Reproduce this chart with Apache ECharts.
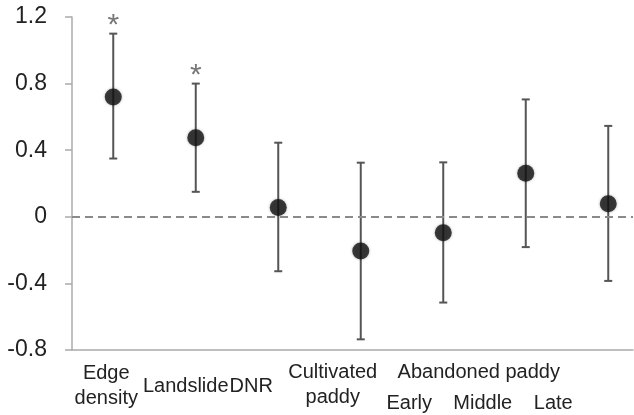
<!DOCTYPE html>
<html>
<head>
<meta charset="utf-8">
<script src="https://cdn.jsdelivr.net/npm/echarts@6/dist/echarts.min.js"></script>
<style>
  html, body { margin: 0; padding: 0; background: #fff; }
  #chart { width: 634px; height: 415px; }
</style>
</head>
<body>
<div id="chart"></div>
<script>
// values
var categories = ['Edge\ndensity', 'Landslide', 'DNR', 'Cultivated\npaddy', 'Early', 'Middle', 'Late'];
var meanValues = [0.72, 0.475, 0.056, -0.206, -0.096, 0.261, 0.078];
var upperValues = [1.10, 0.80, 0.445, 0.325, 0.327, 0.705, 0.546];
var lowerValues = [0.35, 0.15, -0.327, -0.736, -0.515, -0.182, -0.385];
var significant = [true, true, false, false, false, false, false];
var groupLabel = 'Abandoned paddy';
var groupCenter = 5; // index of 'Middle'

// label placement (pixels, relative to the tick position / axis bottom)
var labelShiftX = [-7, -10, -27, -28, -34, -43, -55];
var labelShiftY = [36, 36, 36, 35, 53, 53, 53];

var textColor = '#222';
var labelFont = 'Liberation Sans, Arial, sans-serif';

var chart = echarts.init(document.getElementById('chart'));

var positions = categories.map(function (c, i) { return i + 1; });

var option = {
    animation: false,
    grid: { left: 72, right: 1, top: 17, bottom: 65 },
    xAxis: {
        type: 'value',
        min: 0.5,
        max: 7.3,
        axisLine: { show: true, onZero: false, lineStyle: { color: '#ababab', width: 1.5 } },
        axisTick: { show: false },
        axisLabel: { show: false },
        splitLine: { show: false }
    },
    yAxis: {
        type: 'value',
        min: -0.8,
        max: 1.2,
        interval: 0.4,
        axisLine: { show: true, lineStyle: { color: '#ababab', width: 1.5 } },
        axisTick: { show: true, length: 7, lineStyle: { color: '#ababab', width: 1.5 } },
        splitLine: { show: false },
        axisLabel: {
            margin: 25,
            fontSize: 23,
            fontFamily: labelFont,
            color: textColor,
            formatter: function (v) {
                var r = Math.round(v * 10) / 10;
                return r === 0 ? '0' : r.toFixed(1);
            }
        }
    },
    series: [{
        // error bars
        type: 'custom',
        z: 2,
        data: positions.map(function (x, i) { return [x, lowerValues[i], upperValues[i]]; }),
        renderItem: function (params, api) {
            var lo = api.coord([api.value(0), api.value(1)]);
            var hi = api.coord([api.value(0), api.value(2)]);
            var cap = 4;
            var st = { stroke: '#555', lineWidth: 2 };
            return {
                type: 'group',
                children: [
                    { type: 'line', shape: { x1: lo[0], y1: lo[1], x2: hi[0], y2: hi[1] }, style: st },
                    { type: 'line', shape: { x1: lo[0] - cap, y1: lo[1], x2: lo[0] + cap, y2: lo[1] }, style: st },
                    { type: 'line', shape: { x1: hi[0] - cap, y1: hi[1], x2: hi[0] + cap, y2: hi[1] }, style: st }
                ]
            };
        }
    }, {
        // means
        type: 'scatter',
        z: 3,
        symbolSize: 17,
        itemStyle: { color: '#111', shadowBlur: 3, shadowColor: 'rgba(0,0,0,0.35)' },
        data: positions.map(function (x, i) { return [x, meanValues[i]]; }),
        markLine: {
            silent: true,
            symbol: 'none',
            label: { show: false },
            lineStyle: { color: '#8a8a8a', type: [8, 5], width: 2 },
            data: [{ yAxis: 0 }]
        }
    }, {
        // significance stars
        type: 'custom',
        z: 4,
        data: positions.filter(function (x, i) { return significant[i]; })
            .map(function (x) { return [x, upperValues[x - 1]]; }),
        renderItem: function (params, api) {
            var p = api.coord([api.value(0), api.value(1)]);
            return {
                type: 'text',
                style: {
                    text: '*', x: p[0], y: p[1] - 8,
                    align: 'center', verticalAlign: 'middle',
                    fontSize: 30, fontFamily: labelFont, fill: '#777'
                }
            };
        }
    }, {
        // category labels under the axis
        type: 'custom',
        z: 4,
        data: positions.map(function (x) { return [x, -0.8]; }),
        renderItem: function (params, api) {
            var i = params.dataIndex;
            var p = api.coord([api.value(0), api.value(1)]);
            var children = [{
                type: 'text',
                style: {
                    text: categories[i], x: p[0] + labelShiftX[i], y: p[1] + labelShiftY[i],
                    align: 'center', verticalAlign: 'middle', lineHeight: 25,
                    fontSize: 20, fontFamily: labelFont, fill: textColor
                }
            }];
            if (i === groupCenter) {
                children.push({
                    type: 'text',
                    style: {
                        text: groupLabel, x: p[0] - 47, y: p[1] + 22,
                        align: 'center', verticalAlign: 'middle',
                        fontSize: 20, fontFamily: labelFont, fill: textColor
                    }
                });
            }
            return { type: 'group', children: children };
        }
    }]
};

chart.setOption(option);
</script>
</body>
</html>
